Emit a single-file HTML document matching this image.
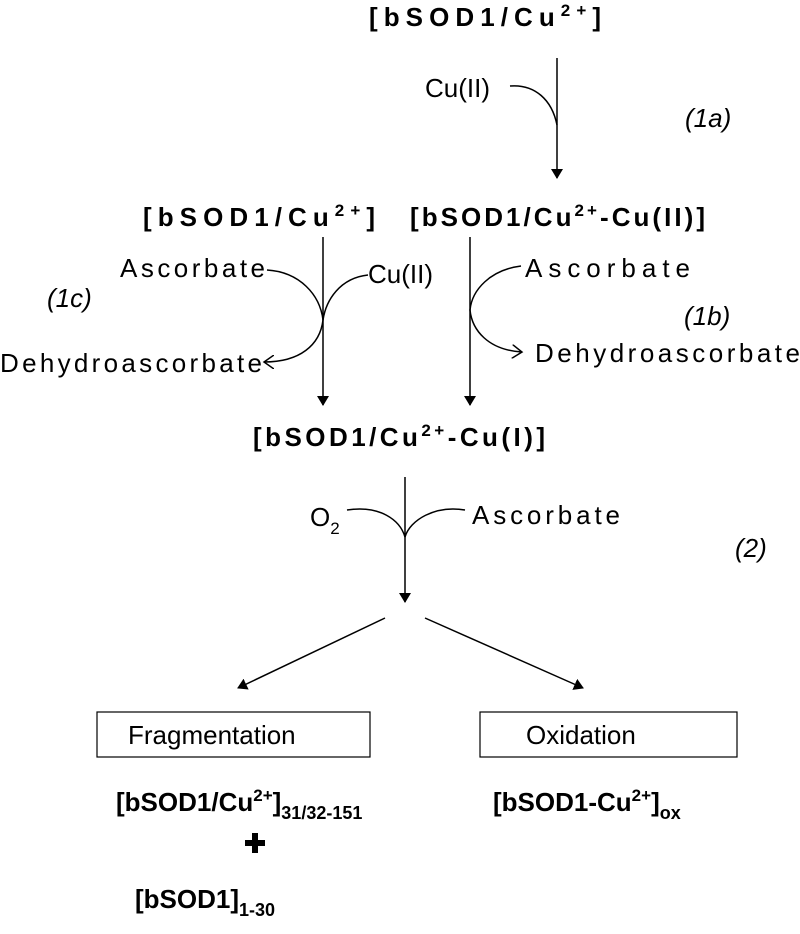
<!DOCTYPE html>
<html><head><meta charset="utf-8"><style>
html,body{margin:0;padding:0;background:#fff;}
svg{display:block;font-family:"Liberation Sans",Arial,sans-serif;}
.b{font-weight:bold;font-size:26px;}
.r{font-size:26px;}
.i{font-style:italic;font-size:26px;}
</style></head><body>
<svg width="800" height="934" viewBox="0 0 800 934" xmlns="http://www.w3.org/2000/svg">
<defs>
<marker id="ah" markerWidth="10" markerHeight="12" refX="9" refY="6" orient="auto" markerUnits="userSpaceOnUse">
<path d="M0,0 L10,6 L0,12 z" fill="#000"/></marker>
<marker id="oh" markerWidth="12" markerHeight="14" refX="10" refY="7" orient="auto" markerUnits="userSpaceOnUse">
<path d="M0,0 L10,7 L0,14" fill="none" stroke="#000" stroke-width="1.5"/></marker>
</defs>
<g fill="#000" stroke="none">
<text class="b" x="369" y="26" textLength="232">[bSOD1/Cu<tspan font-size="17" dy="-10">2+</tspan><tspan dy="10">]</tspan></text>
<text class="r" x="425" y="97">Cu(II)</text>
<text class="i" x="685" y="127">(1a)</text>
<text class="b" x="143" y="226" textLength="232">[bSOD1/Cu<tspan font-size="17" dy="-10">2+</tspan><tspan dy="10">]</tspan></text>
<text class="b" x="410" y="226" textLength="295">[bSOD1/Cu<tspan font-size="17" dy="-10">2+</tspan><tspan dy="10">-Cu(II)]</tspan></text>
<text class="r" x="120" y="277" textLength="145">Ascorbate</text>
<text class="r" x="368" y="283">Cu(II)</text>
<text class="i" x="47" y="307">(1c)</text>
<text class="r" x="0" y="372" textLength="262">Dehydroascorbate</text>
<text class="r" x="525" y="277" textLength="165">Ascorbate</text>
<text class="i" x="684" y="325">(1b)</text>
<text class="r" x="535" y="362" textLength="265">Dehydroascorbate</text>
<text class="b" x="253" y="446" textLength="292">[bSOD1/Cu<tspan font-size="17" dy="-10">2+</tspan><tspan dy="10">-Cu(I)]</tspan></text>
<text class="r" x="310" y="526">O<tspan font-size="17" dy="8">2</tspan></text>
<text class="r" x="472" y="524" textLength="148">Ascorbate</text>
<text class="i" x="735" y="557">(2)</text>
<text class="r" x="128" y="744">Fragmentation</text>
<text class="r" x="526" y="744">Oxidation</text>
<text class="b" x="116" y="811">[bSOD1/Cu<tspan font-size="17" dy="-10">2+</tspan><tspan dy="10">]</tspan><tspan font-size="18" dy="8">31/32-151</tspan></text>
<text class="b" x="493" y="811">[bSOD1-Cu<tspan font-size="17" dy="-10">2+</tspan><tspan dy="10">]</tspan><tspan font-size="18" dy="8">ox</tspan></text>
<text class="b" x="135" y="908">[bSOD1]<tspan font-size="18" dy="8">1-30</tspan></text>
<path d="M249,840 h12 v-8 h-12z M251,836 h8" fill="none"/>
</g>
<g fill="#000"><rect x="252" y="833" width="6" height="20"/><rect x="245" y="840" width="20" height="6"/></g>
<g fill="none" stroke="#000" stroke-width="1.5">
<line x1="557" y1="58" x2="557" y2="178" marker-end="url(#ah)"/>
<path d="M510,86 C535,84 552,100 557,125"/>
<line x1="323" y1="237" x2="323" y2="405" marker-end="url(#ah)"/>
<line x1="470" y1="237" x2="470" y2="405" marker-end="url(#ah)"/>
<path d="M267,270 C300,272 320,295 323,320"/>
<path d="M368,275 C340,278 326,300 323,320"/>
<path d="M323,320 C320,345 300,362 264,362" marker-end="url(#oh)"/>
<path d="M521,266 C490,270 472,290 470,310 C472,330 488,350 522,352" marker-end="url(#oh)"/>
<line x1="405" y1="477" x2="405" y2="602" marker-end="url(#ah)"/>
<path d="M347,510 C380,505 400,520 405,537"/>
<path d="M465,510 C435,505 410,520 405,537"/>
<line x1="385" y1="618" x2="238" y2="688" marker-end="url(#ah)"/>
<line x1="425" y1="618" x2="583" y2="688" marker-end="url(#ah)"/>
<rect x="97" y="712" width="273" height="45" stroke-width="1.2"/>
<rect x="480" y="712" width="257" height="45" stroke-width="1.2"/>
</g>
</svg>
</body></html>
